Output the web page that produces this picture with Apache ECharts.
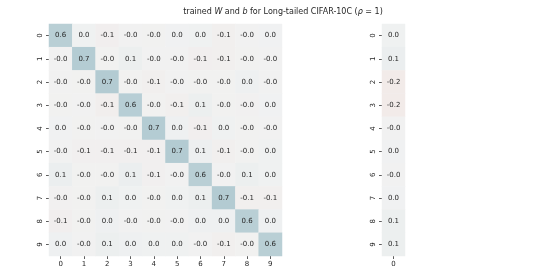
<!DOCTYPE html>
<html><head><meta charset="utf-8">
<script src="https://cdn.jsdelivr.net/npm/echarts@6/dist/echarts.min.js"></script>
<style>html,body{margin:0;padding:0;background:#fff}#c{width:548px;height:274px}</style>
</head><body><div id="c"></div>
<script>
const classes = ['0','1','2','3','4','5','6','7','8','9'];
const biasCats = ['0'];
const W = [
  [0.62, 0.02, -0.08, -0.02, -0.03, 0.01, 0.02, -0.07, -0.02, 0.01],
  [-0.02, 0.68, -0.03, 0.06, -0.02, -0.02, -0.08, -0.07, -0.03, -0.02],
  [-0.02, -0.03, 0.69, -0.03, -0.07, -0.02, -0.03, -0.03, 0.03, -0.02],
  [-0.03, -0.02, -0.09, 0.64, -0.03, -0.07, 0.06, -0.03, -0.04, 0.01],
  [0.01, -0.03, -0.02, -0.03, 0.68, 0.03, -0.08, 0.02, -0.03, -0.02],
  [-0.02, -0.06, -0.06, -0.06, -0.06, 0.69, 0.05, -0.07, -0.03, 0.02],
  [0.07, -0.03, -0.03, 0.07, -0.06, -0.02, 0.62, -0.02, 0.06, 0.02],
  [-0.04, -0.03, 0.06, 0.02, -0.03, 0.02, 0.06, 0.69, -0.07, -0.07],
  [-0.08, -0.03, 0.03, -0.02, -0.03, -0.02, 0.03, 0.03, 0.62, 0.03],
  [0.03, -0.02, 0.06, 0.03, 0.02, 0.02, -0.02, -0.07, -0.03, 0.62]
];
const b = [0.02, 0.07, -0.16, -0.16, -0.02, 0.01, -0.02, 0.01, 0.06, 0.06];

const wData = [];
W.forEach((row, i) => row.forEach((v, j) => wData.push([j, i, v])));
const bData = b.map((v, i) => [0, i, v]);

const chart = echarts.init(document.getElementById('c'), null, {renderer: 'canvas'});
const axisLabel = {fontSize: 7, color: '#262626', fontFamily: 'DejaVu Sans', margin: 5};
const axisTick = {show: true, length: 3, lineStyle: {color: '#333', width: 0.8}, alignWithLabel: true};
function xAx(idx, data) {
  return {type: 'category', gridIndex: idx, data: data, position: 'bottom',
    axisLine: {show: false}, axisTick: axisTick, axisLabel: axisLabel, splitLine: {show: false}};
}
function yAx(idx) {
  return {type: 'category', gridIndex: idx, data: classes, inverse: true,
    axisLine: {show: false}, axisTick: axisTick,
    axisLabel: Object.assign({}, axisLabel, {rotate: 90, margin: 5}), splitLine: {show: false}};
}
const label = {show: true, fontSize: 7, color: '#262626', fontFamily: 'DejaVu Sans',
  formatter: p => p.value[2].toFixed(1)};
chart.setOption({
  animation: false,
  title: {
    text: 'trained {i|W} and {i|b} for Long-tailed CIFAR-10C ({i|ρ} = 1)',
    left: 278, top: 3, textAlign: 'center',
    textStyle: {fontSize: 8, fontWeight: 'normal', color: '#262626', fontFamily: 'DejaVu Sans',
      rich: {i: {fontSize: 8, fontStyle: 'italic', color: '#262626', fontFamily: 'DejaVu Sans'}}}
  },
  grid: [
    {left: 49, top: 24, width: 233, height: 232},
    {left: 382, top: 24, width: 23, height: 232}
  ],
  xAxis: [xAx(0, classes), xAx(1, biasCats)],
  yAxis: [yAx(0), yAx(1)],
  visualMap: {
    show: false, min: -1, max: 1, seriesIndex: [0, 1], calculable: false,
    inRange: {color: ['#f6c4bb', '#f1f2f2', '#97bac4']}
  },
  series: [
    {type: 'heatmap', xAxisIndex: 0, yAxisIndex: 0, data: wData, label: label,
      itemStyle: {borderWidth: 0}},
    {type: 'heatmap', xAxisIndex: 1, yAxisIndex: 1, data: bData, label: label,
      itemStyle: {borderWidth: 0}}
  ]
});
</script></body></html>
